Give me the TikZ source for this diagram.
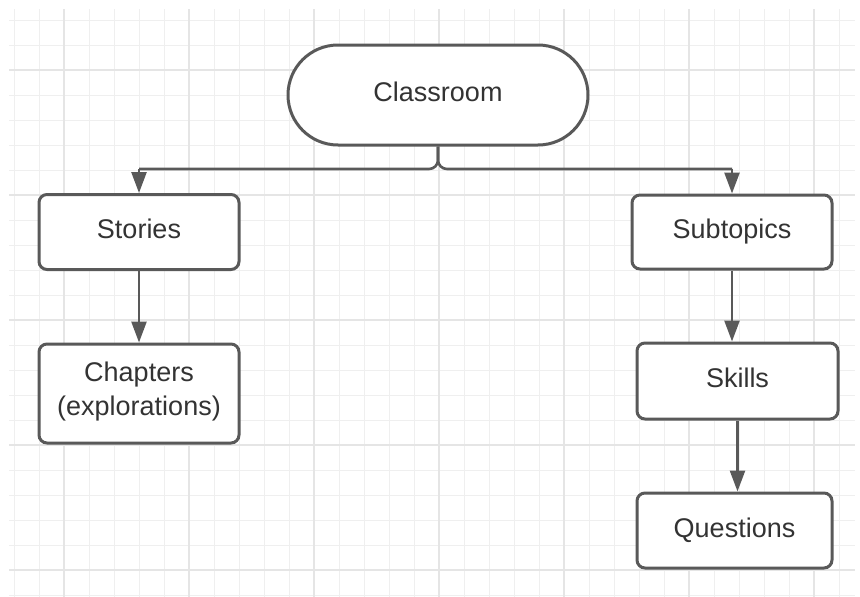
\documentclass[tikz,border=0pt]{standalone}
\usepackage{fontspec}
\setmainfont{Liberation Sans}
\usepackage{tikz}
\usetikzlibrary{arrows.meta}
\usetikzlibrary{positioning}

\definecolor{ink}{HTML}{595959}
\definecolor{txt}{HTML}{333333}
\definecolor{gridminor}{HTML}{EFEFEF}
\definecolor{gridmajor}{HTML}{E5E5E5}

\begin{document}
\begin{tikzpicture}[
                x = 1pt, y = -1pt,
                minor/.style = {draw = gridminor, line width = 1pt},
                major/.style = {draw = gridmajor, line width = 1.3pt},
                box/.style = {draw = ink, line width = 3pt, fill = white, rounded corners = 8pt,
                              inner sep = 0pt, text = txt, align = center,
                              font = \fontsize{27}{34}\selectfont},
                oneline/.style = {box, text height = 20pt, text depth = 7pt},
                pill/.style = {oneline, rounded corners = 50pt, minimum width = 300pt, minimum height = 100pt},
                line/.style = {draw = ink, line width = 2.6pt},
                arr/.style = {line, -{Triangle[length = 21pt, width = 15pt]}},
            ]
            \useasboundingbox (0,0) rectangle (860,597);

            % background grid
            \foreach \gx in {14,39,...,854} \path[minor] (\gx,9) -- (\gx,597);
            \foreach \gy in {20,45,...,595} \path[minor] (9,\gy) -- (855,\gy);
            \foreach \gx in {64,189,...,814} \path[major] (\gx,9) -- (\gx,597);
            \foreach \gy in {70,195,...,570} \path[major] (9,\gy) -- (855,\gy);

            \node (classroom) [pill] at (438,95) {Classroom};

            \node (stories) [oneline, minimum width = 200pt, minimum height = 75pt] at (139,232) {Stories};
            \node (chapters) [box, text height = 54pt, text depth = 10pt,
                              minimum width = 200pt, minimum height = 99pt] at (139,393.5) {Chapters\\(explorations)};

            \node (subtopics) [oneline, minimum width = 200pt, minimum height = 74pt] at (732,232) {Subtopics};
            \node (skills) [oneline, minimum width = 201pt, minimum height = 76pt] at (737.5,381) {Skills};
            \node (questions) [oneline, minimum width = 195pt, minimum height = 75pt] at (734.5,530.5) {Questions};

            \coordinate (lsplit) at (139,169);
            \coordinate (rsplit) at (732,169);

            \path[line, rounded corners = 9pt] (classroom.south) |- (lsplit);
            \path[line, rounded corners = 9pt] (classroom.south) |- (rsplit);
            \path[arr] (lsplit) -- (stories.north);
            \path[arr] (rsplit) -- (subtopics.north);
            \path[arr] (stories) -- (chapters);
            \path[arr] (subtopics.south) -- (subtopics.south |- skills.north);
            \path[arr] (skills.south) -- (skills.south |- questions.north);
        \end{tikzpicture}
\end{document}
